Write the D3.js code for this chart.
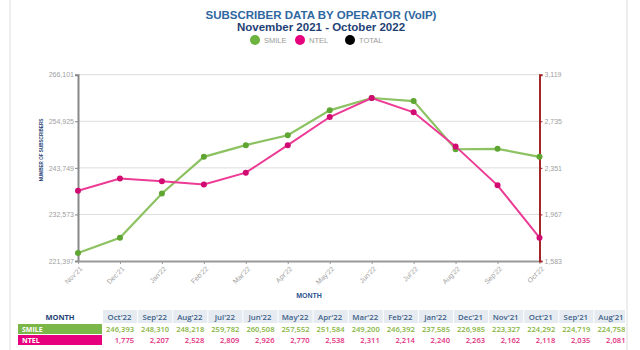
<!DOCTYPE html>
<html>
<head>
<meta charset="utf-8">
<script src="https://cdn.jsdelivr.net/npm/d3@7"></script>
<style>
body { margin: 0; background: #fff; }
svg { display: block; }
</style>
</head>
<body>
<svg width="640" height="350"></svg>
<script>
// table order: newest first
const months = ["Oct'22", "Sep'22", "Aug'22", "Jul'22", "Jun'22", "May'22", "Apr'22", "Mar'22",
	"Feb'22", "Jan'22", "Dec'21", "Nov'21", "Oct'21", "Sep'21", "Aug'21"];
const smile = [246393, 248310, 248218, 259782, 260508, 257552, 251584, 249200,
	246392, 237585, 226985, 223327, 224292, 224719, 224758];
const ntel = [1775, 2207, 2528, 2809, 2926, 2770, 2538, 2311,
	2214, 2240, 2263, 2162, 2118, 2035, 2081];
const chartMonths = ["Nov'21", "Dec'21", "Jan'22", "Feb'22", "Mar'22", "Apr'22",
	"May'22", "Jun'22", "Jul'22", "Aug'22", "Sep'22", "Oct'22"];
const leftTicks = [221397, 232573, 243749, 254925, 266101];
const rightTicks = [1583, 1967, 2351, 2735, 3119];

const svg = d3.select('svg');
const fmt = d3.format(',');

// chart series (oldest first)
const series = chartMonths.map(m => {
	const i = months.indexOf(m);
	return {month: m, smile: smile[i], ntel: ntel[i]};
});

// container borders
svg.append('line').attr('x1', 10).attr('x2', 10).attr('y1', 0).attr('y2', 350)
	.attr('stroke', '#eee').attr('stroke-width', 2);
svg.append('line').attr('x1', 627).attr('x2', 627).attr('y1', 0).attr('y2', 350)
	.attr('stroke', '#eee').attr('stroke-width', 2);

// title
svg.append('text').attr('x', 321).attr('y', 18.5).attr('text-anchor', 'middle')
	.style('font', 'bold 11.5px "Liberation Sans", Arial').attr('fill', '#2f67a0')
	.text('SUBSCRIBER DATA BY OPERATOR (VoIP)');
svg.append('text').attr('x', 321).attr('y', 30.5).attr('text-anchor', 'middle')
	.style('font', 'bold 11.5px "Liberation Sans", Arial').attr('fill', '#1f3f75')
	.text('November 2021 - October 2022');

// legend
const legend = [{n: 'SMILE', c: '#6cb33f', x: 255}, {n: 'NTEL', c: '#e6007e', x: 300}, {n: 'TOTAL', c: '#000', x: 350}];
const lg = svg.append('g').selectAll('g').data(legend).enter().append('g')
	.attr('transform', d => `translate(${d.x},40)`);
lg.append('circle').attr('r', 5).attr('fill', d => d.c);
lg.append('text').attr('x', 9).attr('y', 2.5)
	.style('font', '7.5px "Liberation Sans", Arial').attr('fill', '#999')
	.text(d => d.n);

// scales
const x = d3.scalePoint().domain(chartMonths).range([78, 539.5]);
const yL = d3.scaleLinear().domain([leftTicks[0], leftTicks[4]]).range([261, 74.7]);
const yR = d3.scaleLinear().domain([rightTicks[0], rightTicks[4]]).range([261, 74.7]);

// grid
svg.append('g').selectAll('line').data(leftTicks.slice(1)).enter().append('line')
	.attr('x1', 78).attr('x2', 539.5)
	.attr('y1', d => yL(d)).attr('y2', d => yL(d))
	.attr('stroke', '#ddd').attr('stroke-width', 1);

// left axis
const leftG = svg.append('g').attr('transform', 'translate(78,0)')
	.call(d3.axisLeft(yL).tickValues(leftTicks).tickFormat(fmt).tickSize(3).tickPadding(1));
leftG.select('.domain').attr('stroke', '#888').attr('stroke-width', 2);
leftG.selectAll('.tick line').attr('stroke', '#888');
leftG.selectAll('text').style('font', '7px "Liberation Sans", Arial').attr('fill', '#a0a0a0');

// bottom axis
const bottomG = svg.append('g').attr('transform', 'translate(0,261)')
	.call(d3.axisBottom(x).tickSize(3).tickSizeOuter(0));
bottomG.select('.domain').attr('stroke', '#999').attr('stroke-width', 2);
bottomG.selectAll('.tick line').attr('stroke', '#999');
bottomG.selectAll('text')
	.style('font', '7px "Liberation Sans", Arial').attr('fill', '#a0a0a0')
	.attr('text-anchor', 'end')
	.attr('transform', 'translate(2,3) rotate(-45)')
	.attr('dy', '0.35em').attr('y', 3).attr('x', -2);

// right axis
const rightG = svg.append('g').attr('transform', 'translate(539.5,0)')
	.call(d3.axisRight(yR).tickValues(rightTicks).tickFormat(fmt).tickSize(3).tickPadding(2));
rightG.select('.domain').attr('stroke', '#a3262b').attr('stroke-width', 2);
rightG.selectAll('.tick line').attr('stroke', '#a3262b');
rightG.selectAll('text').style('font', '7px "Liberation Sans", Arial').attr('fill', '#a0a0a0');

// axis titles
svg.append('text').attr('x', 309).attr('y', 298).attr('text-anchor', 'middle')
	.style('font', 'bold 7px "Liberation Sans", Arial').attr('fill', '#2a5590')
	.text('MONTH');
svg.append('text').attr('transform', 'translate(43,150) rotate(-90)').attr('text-anchor', 'middle')
	.style('font', 'bold 4.6px "Liberation Sans", Arial').attr('fill', '#1f3f75')
	.text('NUMBER OF SUBSCRIBERS');

// lines
const drawSeries = (key, scale, lineColor, dotColor, w) => {
	svg.append('path').datum(series)
		.attr('fill', 'none').attr('stroke', lineColor).attr('stroke-width', w)
		.attr('d', d3.line().x(d => x(d.month)).y(d => scale(d[key])));
	svg.append('g').selectAll('circle').data(series).enter().append('circle')
		.attr('cx', d => x(d.month)).attr('cy', d => scale(d[key]))
		.attr('r', 3).attr('fill', dotColor);
};
drawSeries('smile', yL, '#8cc262', '#5ea532', 2.2);
drawSeries('ntel', yR, '#ec3a95', '#d10b72', 2);

// table
svg.append('clipPath').attr('id', 'tclip').append('rect')
	.attr('x', 0).attr('y', 300).attr('width', 625).attr('height', 50);
const tbl = svg.append('g').attr('clip-path', 'url(#tclip)');
const colX = d3.scaleBand().domain(months).range([103, 103 + 35.1 * months.length]);

tbl.append('text').attr('x', 60).attr('y', 320).attr('text-anchor', 'middle')
	.style('font', 'bold 7.5px "Open Sans", sans-serif').attr('fill', '#1f3f75')
	.text('MONTH');
tbl.selectAll('rect.h').data(months).enter().append('rect').attr('class', 'h')
	.attr('x', d => colX(d)).attr('y', 310).attr('width', colX.bandwidth() - 1).attr('height', 13)
	.attr('fill', '#e6ebf1');
tbl.selectAll('text.h').data(months).enter().append('text').attr('class', 'h')
	.attr('x', d => colX(d) + colX.bandwidth() / 2 - 1).attr('y', 320).attr('text-anchor', 'middle')
	.style('font', '600 7.8px "Open Sans", sans-serif').attr('fill', '#3d5f88')
	.text(d => d);

const rows = [
	{name: 'SMILE', vals: smile, bg: '#7ab648', fg: '#86b541', y: 324},
	{name: 'NTEL', vals: ntel, bg: '#e6007e', fg: '#e3307f', y: 335}
];
rows.forEach(r => {
	tbl.append('rect').attr('x', 18).attr('y', r.y).attr('width', 84).attr('height', 10)
		.attr('fill', r.bg);
	tbl.append('text').attr('x', 22).attr('y', r.y + 7.5)
		.style('font', 'bold 7px "Open Sans", sans-serif').attr('fill', '#fff')
		.text(r.name);
	tbl.selectAll(null).data(r.vals).enter().append('text')
		.attr('x', (d, i) => colX(months[i]) + colX.bandwidth() - 4)
		.attr('y', r.y + 7.8).attr('text-anchor', 'end')
		.style('font', '600 7.6px "Open Sans", sans-serif').attr('fill', r.fg)
		.text(d => fmt(d));
});
</script>
</body>
</html>
